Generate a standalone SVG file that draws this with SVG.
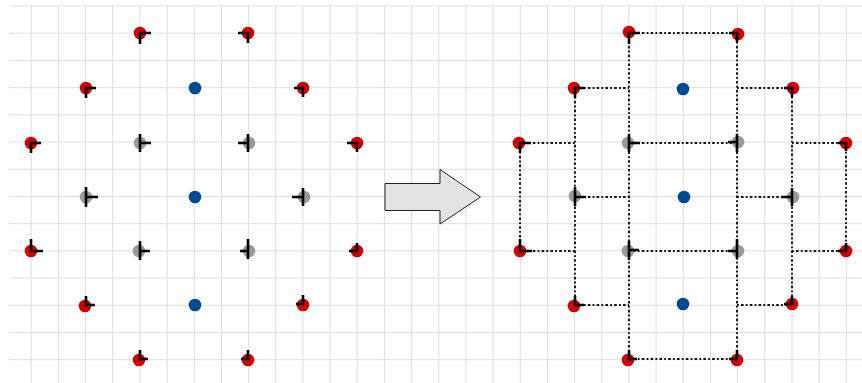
<svg xmlns="http://www.w3.org/2000/svg" width="862" height="383" viewBox="0 0 862 383">
  <style>
    .grid line { stroke: #dedede; stroke-width: 1; }
    .red { fill: #d40000; }
    .blue { fill: #004a94; }
    .gray { fill: #9a9a9a; }
    circle { r: 6.3px; }
    .tick { fill: none; stroke: #000; stroke-width: 2.6; stroke-linejoin: miter; }
    .wire { fill: none; stroke: #111; stroke-width: 1.9; stroke-dasharray: 1.8 2.2 2.6 2.2; }
    .arrow { fill: #e3e3e3; stroke: #222; stroke-width: 1; }
  </style>
  <rect width="862" height="383" fill="#fff"/>

  <!-- background grid: pitch 27.17 px -->
  <g class="grid">
    <line x1="9" y1="6" x2="862" y2="6"/>
    <line x1="9" y1="33.2" x2="862" y2="33.2"/>
    <line x1="9" y1="60.5" x2="862" y2="60.5"/>
    <line x1="9" y1="87.7" x2="862" y2="87.7"/>
    <line x1="9" y1="114.9" x2="862" y2="114.9"/>
    <line x1="9" y1="142.1" x2="862" y2="142.1"/>
    <line x1="9" y1="169.3" x2="862" y2="169.3"/>
    <line x1="9" y1="196.5" x2="862" y2="196.5"/>
    <line x1="9" y1="223.7" x2="862" y2="223.7"/>
    <line x1="9" y1="250.9" x2="862" y2="250.9"/>
    <line x1="9" y1="278.1" x2="862" y2="278.1"/>
    <line x1="9" y1="305.3" x2="862" y2="305.3"/>
    <line x1="9" y1="332.5" x2="862" y2="332.5"/>
    <line x1="9" y1="359.7" x2="862" y2="359.7"/>
    <line x1="31.2" y1="6" x2="31.2" y2="383"/>
    <line x1="58.4" y1="6" x2="58.4" y2="383"/>
    <line x1="85.5" y1="6" x2="85.5" y2="383"/>
    <line x1="112.7" y1="6" x2="112.7" y2="383"/>
    <line x1="139.9" y1="6" x2="139.9" y2="383"/>
    <line x1="167.1" y1="6" x2="167.1" y2="383"/>
    <line x1="194.2" y1="6" x2="194.2" y2="383"/>
    <line x1="221.4" y1="6" x2="221.4" y2="383"/>
    <line x1="248.6" y1="6" x2="248.6" y2="383"/>
    <line x1="275.7" y1="6" x2="275.7" y2="383"/>
    <line x1="302.9" y1="6" x2="302.9" y2="383"/>
    <line x1="330.1" y1="6" x2="330.1" y2="383"/>
    <line x1="357.2" y1="6" x2="357.2" y2="383"/>
    <line x1="384.4" y1="6" x2="384.4" y2="383"/>
    <line x1="411.6" y1="6" x2="411.6" y2="383"/>
    <line x1="438.8" y1="6" x2="438.8" y2="383"/>
    <line x1="465.9" y1="6" x2="465.9" y2="383"/>
    <line x1="493.1" y1="6" x2="493.1" y2="383"/>
    <line x1="520.3" y1="6" x2="520.3" y2="383"/>
    <line x1="547.4" y1="6" x2="547.4" y2="383"/>
    <line x1="574.6" y1="6" x2="574.6" y2="383"/>
    <line x1="601.8" y1="6" x2="601.8" y2="383"/>
    <line x1="628.9" y1="6" x2="628.9" y2="383"/>
    <line x1="656.1" y1="6" x2="656.1" y2="383"/>
    <line x1="683.3" y1="6" x2="683.3" y2="383"/>
    <line x1="710.5" y1="6" x2="710.5" y2="383"/>
    <line x1="737.6" y1="6" x2="737.6" y2="383"/>
    <line x1="764.8" y1="6" x2="764.8" y2="383"/>
    <line x1="792" y1="6" x2="792" y2="383"/>
    <line x1="819.1" y1="6" x2="819.1" y2="383"/>
    <line x1="846.3" y1="6" x2="846.3" y2="383"/>
  </g>

  <!-- left lattice: points with their outgoing stubs -->
  <g id="left">
    <g id="L-c1r1"><circle class="red" cx="140" cy="33" r="6.3"/><path class="tick" d="M151,33 H140 V44"/></g>
    <g id="L-c5r1"><circle class="red" cx="248" cy="33" r="6.3"/><path class="tick" d="M238,33 H248 V43"/></g>
    <g id="L-b2"><circle class="red" cx="86" cy="88" r="6.3"/><path class="tick" d="M96,88 H86 V98"/></g>
    <g id="L-d2"><circle class="blue" cx="195" cy="88" r="6.3"/></g>
    <g id="L-f2"><circle class="red" cx="303" cy="88" r="6.3"/><path class="tick" d="M294,88 H303 V97"/></g>
    <g id="L-a3"><circle class="red" cx="31" cy="143" r="6.3"/><path class="tick" d="M41,143 H31 V153"/></g>
    <g id="L-c3"><circle class="gray" cx="140" cy="143" r="6.3"/><path class="tick" d="M140,134 V152 M140,143 H151"/></g>
    <g id="L-e3"><circle class="gray" cx="249" cy="143" r="6.3"/><path class="tick" d="M248,134 V152 M248,143 H238"/></g>
    <g id="L-g3"><circle class="red" cx="357" cy="143" r="6.3"/><path class="tick" d="M347,143 H357 V152"/></g>
    <g id="L-b4"><circle class="gray" cx="86" cy="197" r="6.3"/><path class="tick" d="M86,187 V207 M86,197 H98"/></g>
    <g id="L-d4"><circle class="blue" cx="195" cy="197" r="6.3"/></g>
    <g id="L-f4"><circle class="gray" cx="304" cy="197" r="6.3"/><path class="tick" d="M303,188 V206 M303,197 H292"/></g>
    <g id="L-a5"><circle class="red" cx="31" cy="251" r="6.3"/><path class="tick" d="M31,239 V251 H43"/></g>
    <g id="L-c5"><circle class="gray" cx="139" cy="251" r="6.3"/><path class="tick" d="M140,241 V260 M140,251 H150"/></g>
    <g id="L-e5"><circle class="gray" cx="249" cy="251" r="6.3"/><path class="tick" d="M248,239 V259 M248,251 H240"/></g>
    <g id="L-g5"><circle class="red" cx="357" cy="251" r="6.3"/><path class="tick" d="M357,243 V251 H349"/></g>
    <g id="L-b6"><circle class="red" cx="85" cy="306" r="6.3"/><path class="tick" d="M86,296 V305 H95"/></g>
    <g id="L-d6"><circle class="blue" cx="195" cy="305" r="6.3"/></g>
    <g id="L-f6"><circle class="red" cx="303" cy="305" r="6.3"/><path class="tick" d="M303,295 V304 H296"/></g>
    <g id="L-c7"><circle class="red" cx="139" cy="360" r="6.3"/><path class="tick" d="M140,350 V359 H148"/></g>
    <g id="L-e7"><circle class="red" cx="248" cy="360" r="6.3"/><path class="tick" d="M248,350 V359 H241"/></g>
  </g>

  <!-- transition arrow -->
  <g id="step-arrow">
    <path class="arrow" d="M385,183.5 H440 V169.5 L480.5,197 L440,224 V210.5 H385 Z"/>
  </g>

  <!-- right lattice: dotted links between points -->
  <g id="connectors" class="wire">
    <path d="M629,33 H737"/>
    <path d="M575,88 H629"/>
    <path d="M737,88 H792"/>
    <path d="M520,143 H575"/>
    <path d="M629,143 H737"/>
    <path d="M792,143 H846"/>
    <path d="M575,197 H629"/>
    <path d="M737,197 H792"/>
    <path d="M520,251 H575"/>
    <path d="M629,251 H737"/>
    <path d="M792,251 H846"/>
    <path d="M575,305 H629"/>
    <path d="M737,305 H792"/>
    <path d="M629,359 H737"/>
    <path d="M520,143 V251"/>
    <path d="M575,88 V305"/>
    <path d="M629,33 V359"/>
    <path d="M737,33 V359"/>
    <path d="M792,88 V305"/>
    <path d="M846,143 V251"/>
  </g>

  <g id="right">
    <g id="R-c1"><circle class="red" cx="629" cy="32" r="6.3"/><path class="tick" d="M640,33 H629 V44"/></g>
    <g id="R-e1"><circle class="red" cx="738" cy="34" r="6.3"/><path class="tick" d="M729,33 H737 V42"/></g>
    <g id="R-b2"><circle class="red" cx="574" cy="88" r="6.3"/><path class="tick" d="M585,88 H575 V98"/></g>
    <g id="R-d2"><circle class="blue" cx="683" cy="89" r="6.3"/></g>
    <g id="R-f2"><circle class="red" cx="793" cy="88" r="6.3"/><path class="tick" d="M784,88 H792 V97"/></g>
    <g id="R-a3"><circle class="red" cx="519" cy="143" r="6.3"/><path class="tick" d="M531,143 H520 V153"/></g>
    <g id="R-c3"><circle class="gray" cx="628" cy="143" r="6.3"/><path class="tick" d="M629,134 V152 M629,143 H640"/></g>
    <g id="R-e3"><circle class="gray" cx="738" cy="142" r="6.3"/><path class="tick" d="M737,134 V152 M737,142 H728"/></g>
    <g id="R-g3"><circle class="red" cx="846" cy="143" r="6.3"/><path class="tick" d="M838,143 H846 V151"/></g>
    <g id="R-b4"><circle class="gray" cx="575" cy="196" r="6.3"/><path class="tick" d="M575,187 V206 M575,197 H586"/></g>
    <g id="R-d4"><circle class="blue" cx="684" cy="197" r="6.3"/></g>
    <g id="R-f4"><circle class="gray" cx="793" cy="197" r="6.3"/><path class="tick" d="M792,188 V206 M792,197 H781"/></g>
    <g id="R-a5"><circle class="red" cx="520" cy="251" r="6.3"/><path class="tick" d="M520,239 V251 H532"/></g>
    <g id="R-c5"><circle class="gray" cx="628" cy="251" r="6.3"/><path class="tick" d="M629,241 V260 M629,250 H639"/></g>
    <g id="R-e5"><circle class="gray" cx="738" cy="251" r="6.3"/><path class="tick" d="M737,239 V259 M737,251 H728"/></g>
    <g id="R-g5"><circle class="red" cx="846" cy="251" r="6.3"/><path class="tick" d="M846,243 V251 H838"/></g>
    <g id="R-b6"><circle class="red" cx="574" cy="306" r="6.3"/><path class="tick" d="M575,296 V305 H584"/></g>
    <g id="R-d6"><circle class="blue" cx="683" cy="304" r="6.3"/></g>
    <g id="R-f6"><circle class="red" cx="792" cy="304" r="6.3"/><path class="tick" d="M792,296 V304 H784"/></g>
    <g id="R-c7"><circle class="red" cx="628" cy="360" r="6.3"/><path class="tick" d="M629,350 V359 H637"/></g>
    <g id="R-e7"><circle class="red" cx="737" cy="360" r="6.3"/><path class="tick" d="M737,350 V359 H729"/></g>
  </g>
</svg>
